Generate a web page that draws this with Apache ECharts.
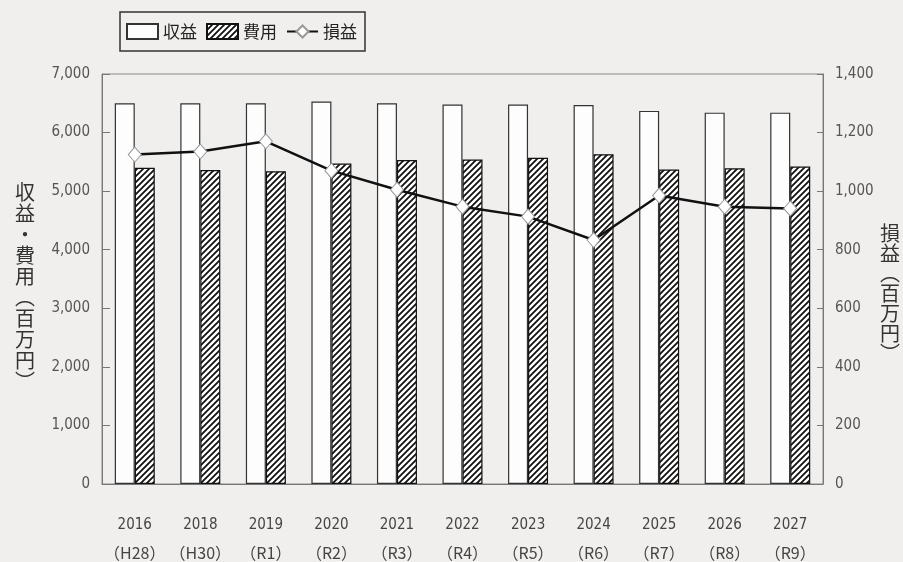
<!DOCTYPE html>
<html>
<head>
<meta charset="utf-8">
<script src="https://cdn.jsdelivr.net/npm/echarts@6/dist/echarts.min.js"></script>
<style>
html, body { margin: 0; padding: 0; background: #f0efed; }
#main { width: 903px; height: 562px; }
</style>
</head>
<body>
<div id="main"></div>
<script>
// 年度と元号
var years = ['2016', '2018', '2019', '2020', '2021', '2022', '2023', '2024', '2025', '2026', '2027'];
var eras = ['H28', 'H30', 'R1', 'R2', 'R3', 'R4', 'R5', 'R6', 'R7', 'R8', 'R9'];
// 収益・費用（百万円）
var revenue = [6500, 6500, 6500, 6530, 6500, 6480, 6480, 6470, 6370, 6340, 6340];
var expense = [5400, 5360, 5340, 5470, 5530, 5540, 5570, 5630, 5370, 5390, 5420];
// 損益（百万円）
var profit = [1125, 1135, 1170, 1070, 1005, 947, 913, 833, 985, 947, 941];

var jpFont = '"Noto Sans CJK JP", sans-serif';
var numFont = '"Liberation Sans Narrow", "DejaVu Sans Condensed", "Roboto", sans-serif';

// 斜線パターン
function makeHatch() {
    var c = document.createElement('canvas');
    c.width = 6;
    c.height = 6;
    var g = c.getContext('2d');
    g.fillStyle = '#ffffff';
    g.fillRect(0, 0, 6, 6);
    g.strokeStyle = '#111';
    g.lineWidth = 1.8;
    g.beginPath();
    g.moveTo(-1, 7); g.lineTo(7, -1);
    g.moveTo(-1, 1); g.lineTo(1, -1);
    g.moveTo(5, 7); g.lineTo(7, 5);
    g.stroke();
    return c;
}

var chart = echarts.init(document.getElementById('main'));
var hatch = makeHatch();

var option = {
    backgroundColor: '#f0efed',
    animation: false,
    legend: {
        left: 120,
        top: 12,
        padding: [11, 8, 11, 6],
        borderColor: '#333',
        borderWidth: 1.5,
        itemWidth: 31,
        itemHeight: 15,
        itemGap: 9,
        textStyle: { fontFamily: jpFont, fontSize: 17, color: '#222' },
        data: [
            { name: '収益', icon: 'rect' },
            { name: '費用', icon: 'rect' },
            { name: '損益' }
        ]
    },
    grid: {
        left: 102,
        right: 80,
        top: 74,
        bottom: 78,
        show: true,
        borderColor: '#888',
        borderWidth: 1
    },
    xAxis: {
        type: 'category',
        data: years,
        axisLine: { lineStyle: { color: '#777' } },
        axisTick: { show: false },
        axisLabel: {
            interval: 0,
            margin: 27,
            formatter: function (v, i) {
                return '{y|' + v + '}\n{e|（' + eras[i] + '）}';
            },
            rich: {
                y: { fontFamily: numFont, fontSize: 15, color: '#444', lineHeight: 28 },
                e: { fontFamily: jpFont, fontSize: 16, color: '#444', lineHeight: 28 }
            }
        }
    },
    yAxis: [{
        type: 'value',
        min: 0,
        max: 7000,
        interval: 1000,
        splitLine: { show: false },
        axisLine: { show: true, lineStyle: { color: '#777' } },
        axisTick: { show: true, inside: true, length: 8, lineStyle: { color: '#777' } },
        axisLabel: {
            margin: 12,
            fontFamily: numFont,
            fontSize: 15,
            color: '#555',
            formatter: function (v) { return v.toLocaleString('en-US'); }
        }
    }, {
        type: 'value',
        min: 0,
        max: 1400,
        interval: 200,
        splitLine: { show: false },
        axisLine: { show: true, lineStyle: { color: '#777' } },
        axisTick: { show: true, inside: true, length: 6, lineStyle: { color: '#777' } },
        axisLabel: {
            margin: 12,
            fontFamily: numFont,
            fontSize: 15,
            color: '#555',
            formatter: function (v) { return v.toLocaleString('en-US'); }
        }
    }],
    graphic: [{
        type: 'text',
        x: 25,
        y: 182,
        style: {
            text: '収\n益\n・\n費\n用\n︵\n百\n万\n円\n︶',
            font: '20px "Noto Sans CJK JP"',
            lineHeight: 21,
            align: 'center',
            verticalAlign: 'top',
            fill: '#333'
        }
    }, {
        type: 'text',
        x: 890,
        y: 223,
        style: {
            text: '損\n益\n︵\n百\n万\n円\n︶',
            font: '20px "Noto Sans CJK JP"',
            lineHeight: 20,
            align: 'center',
            verticalAlign: 'top',
            fill: '#333'
        }
    }],
    series: [{
        name: '収益',
        type: 'bar',
        barWidth: 20,
        barGap: '0%',
        data: revenue,
        itemStyle: { color: '#fdfdfd', borderColor: '#333', borderWidth: 1.2 }
    }, {
        name: '費用',
        type: 'bar',
        barWidth: 20,
        data: expense,
        itemStyle: { color: { image: hatch, repeat: 'repeat' }, borderColor: '#111', borderWidth: 1.2 }
    }, {
        name: '損益',
        type: 'line',
        yAxisIndex: 1,
        data: profit,
        symbol: 'diamond',
        symbolSize: [13, 15],
        lineStyle: { color: '#111', width: 2.5 },
        itemStyle: { color: '#fff', borderColor: '#999', borderWidth: 1 },
        z: 5
    }]
};

chart.setOption(option);
</script>
</body>
</html>
